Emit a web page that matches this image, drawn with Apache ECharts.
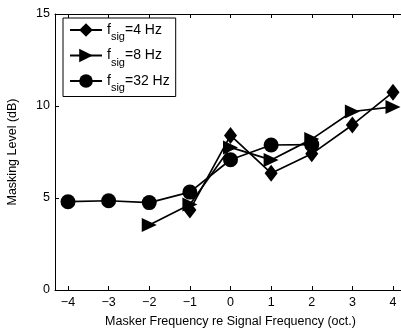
<!DOCTYPE html>
<html><head><meta charset="utf-8">
<script src="https://cdn.jsdelivr.net/npm/echarts@6/dist/echarts.min.js"></script>
<style>html,body{margin:0;padding:0;background:#fff;overflow:hidden}#c{width:401px;height:329px}</style>
</head><body><div id="c"></div>
<script>
var xTicks = [-4, -3, -2, -1, 0, 1, 2, 3, 4];
var yTicks = [0, 5, 10, 15];
var x4 = [-1, 0, 1, 2, 3, 4];
var y4 = [4.35, 8.4, 6.35, 7.4, 8.97, 10.75];
var x8 = [-2, -1, 0, 1, 2, 3, 4];
var y8 = [3.53, 4.65, 7.75, 7.07, 8.2, 9.7, 9.95];
var x32 = [-4, -3, -2, -1, 0, 1, 2];
var y32 = [4.8, 4.85, 4.75, 5.32, 7.08, 7.88, 7.9];
var names = ['f_sig=4 Hz', 'f_sig=8 Hz', 'f_sig=32 Hz'];
var legendText = {'f_sig=4 Hz': '=4 Hz', 'f_sig=8 Hz': '=8 Hz', 'f_sig=32 Hz': '=32 Hz'};

function pairs(xs, ys) { return xs.map(function (x, i) { return [x, ys[i]]; }); }
var FONT = 'Liberation Sans, Arial, sans-serif';
var minus = function (v) { return String(v).replace('-', '\u2212'); };

var chart = echarts.init(document.getElementById('c'), null, {renderer: 'canvas'});
function mkSeries(name, data, symbol, size, rot) {
  return {
    name: name, type: 'line', data: data, symbol: symbol, symbolSize: size, symbolRotate: rot || 0,
    lineStyle: {color: '#000', width: 1.7}, itemStyle: {color: '#000'},
    showAllSymbol: true, animation: false, z: 3
  };
}
chart.setOption({
  animation: false,
  textStyle: {fontFamily: FONT},
  grid: {left: 55, top: 14, width: 351, height: 276, outerBoundsMode: 'none', containLabel: false, show: false},
  legend: {
    left: 63, top: 18, orient: 'vertical', padding: [5, 6, 3, 6], itemGap: 6,
    itemWidth: 32, itemHeight: 17,
    backgroundColor: '#fff', borderColor: '#000', borderWidth: 1, borderRadius: 0,
    data: names,
    formatter: function (n) { return '{f|f}{s|sig}{t|' + legendText[n] + '}'; },
    textStyle: {
      color: '#000', fontFamily: FONT, fontSize: 13,
      rich: {
        f: {fontSize: 14, fontFamily: FONT, color: '#000'},
        s: {fontSize: 11, fontFamily: FONT, color: '#000', padding: [14, 0, 0, 0]},
        t: {fontSize: 14, fontFamily: FONT, color: '#000'}
      }
    }
  },
  xAxis: [{
    type: 'value', min: -4.32, max: 4.32, position: 'bottom',
    name: 'Masker Frequency re Signal Frequency (oct.)', nameLocation: 'middle', nameGap: 25,
    nameTextStyle: {color: '#000', fontSize: 12.5, fontFamily: FONT},
    axisLine: {show: true, onZero: false, lineStyle: {color: '#000', width: 1}},
    axisTick: {show: true, inside: true, length: 4, customValues: xTicks, lineStyle: {color: '#000'}},
    axisLabel: {customValues: xTicks, color: '#000', fontSize: 12.5, fontFamily: FONT, margin: 6, formatter: minus},
    splitLine: {show: false}
  }, {
    type: 'value', min: -4.32, max: 4.32, position: 'top',
    axisLine: {show: true, onZero: false, lineStyle: {color: '#000', width: 1}},
    axisTick: {show: true, inside: true, length: 4, customValues: xTicks, lineStyle: {color: '#000'}},
    axisLabel: {show: false}, splitLine: {show: false}
  }],
  yAxis: [{
    type: 'value', min: 0, max: 15, interval: 5,
    name: 'Masking Level (dB)', nameLocation: 'middle', nameGap: 36,
    nameTextStyle: {color: '#000', fontSize: 12.5, fontFamily: FONT},
    axisLine: {show: true, onZero: false, lineStyle: {color: '#000', width: 1}},
    axisTick: {show: true, inside: true, length: 4, lineStyle: {color: '#000'}},
    axisLabel: {color: '#000', fontSize: 12.5, fontFamily: FONT, margin: 5, formatter: minus},
    splitLine: {show: false}
  }],
  series: [
    mkSeries(names[0], pairs(x4, y4), 'diamond', [13, 17]),
    mkSeries(names[1], pairs(x8, y8), 'triangle', [14, 15], -90),
    mkSeries(names[2], pairs(x32, y32), 'circle', 15)
  ]
});
</script></body></html>
